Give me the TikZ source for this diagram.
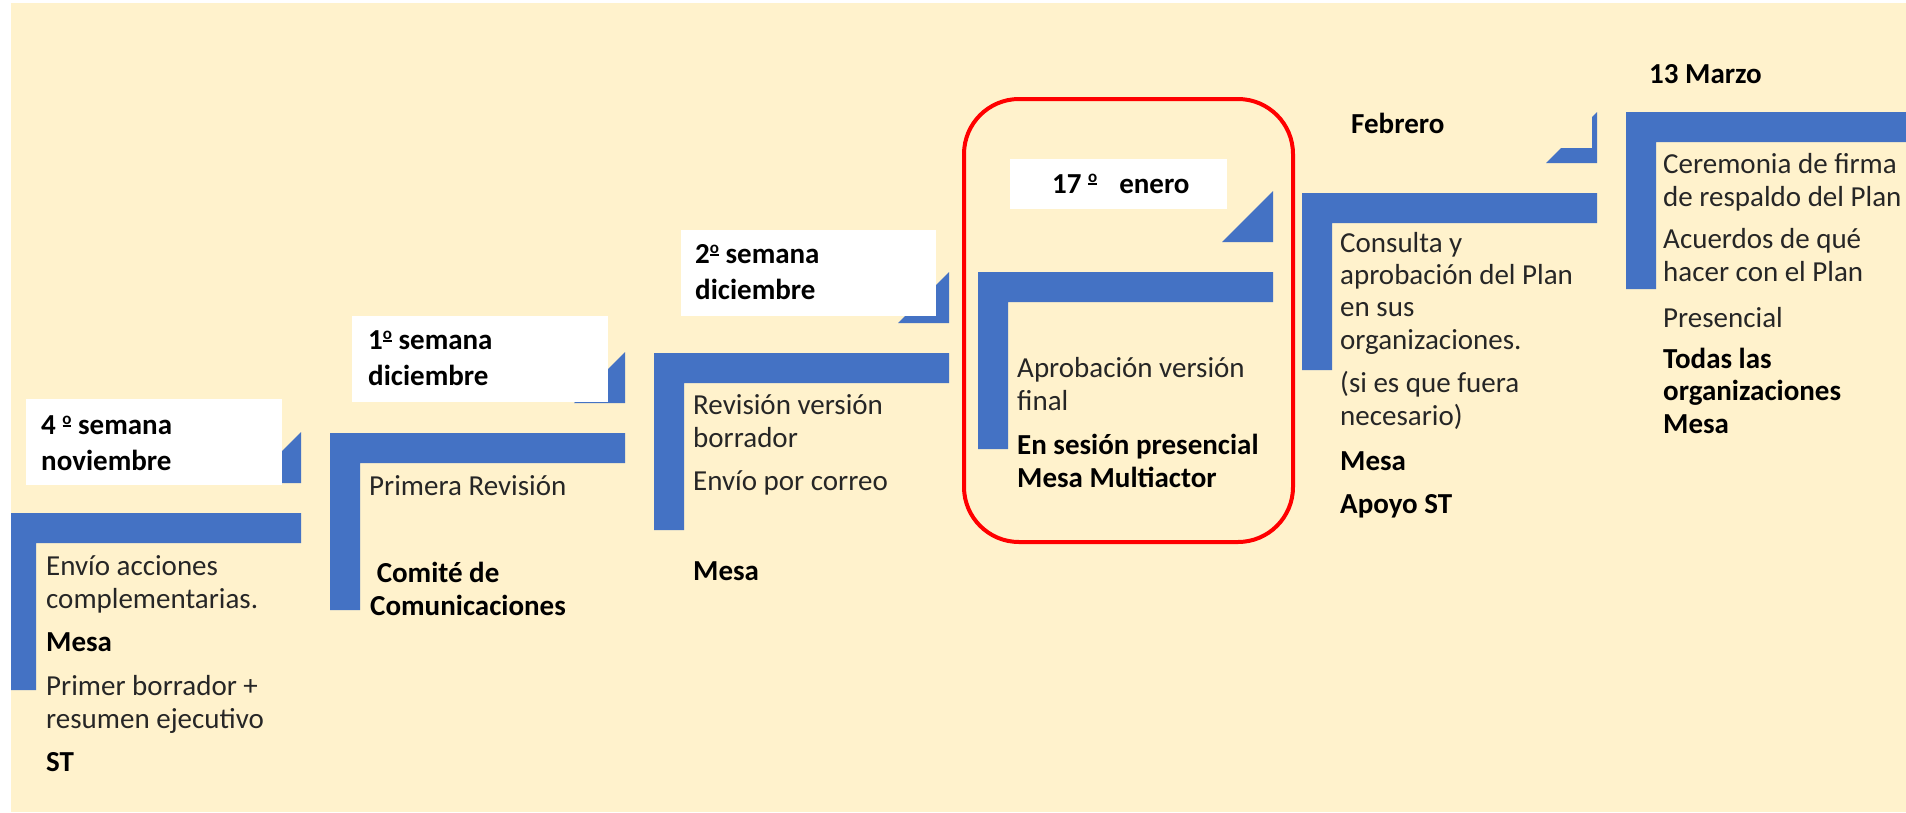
\documentclass[tikz,border=0pt]{standalone}
\usepackage{fontspec}
\setmainfont{Carlito}
\definecolor{cream}{HTML}{FFF2CC}
\definecolor{stepblue}{HTML}{4472C4}
\definecolor{bodytext}{HTML}{262626}
\definecolor{frame}{HTML}{FF0000}
% ordinal sign: #1 raise, #2 font size
\newcommand{\myordo}[2]{\raisebox{#1}{\fontsize{#2}{#2}\selectfont\setbox0\hbox{o}\rlap{\hbox to \wd0{\hss\rule[-2.6pt]{0.95\wd0}{1.7pt}\hss}}\box0}}
\begin{document}
\begin{tikzpicture}[x=1pt,y=-1pt,
  datetext/.style={anchor=base west, inner sep=0pt, align=left, font=\fontsize{29}{35.4}\selectfont\bfseries, text=black},
  bodytxt/.style={anchor=base west, inner sep=0pt, align=left, font=\fontsize{29}{32.3}\selectfont, text=bodytext},
  boldtxt/.style={bodytxt, font=\fontsize{29}{32.3}\selectfont\bfseries, text=black},
]
\useasboundingbox (0,0) rectangle (1906,812);
\fill[white] (0,0) rectangle (1906,812);
\fill[cream] (11,3) rectangle (1906,812);
\begin{scope}
\clip (11,3) rectangle (1906,812);
\foreach \x/\y in {6/513,330/433,654/353,978/272,1302/193} {
  \fill[stepblue] (\x,\y) -- ++(295,0) -- ++(0,30) -- ++(-265,0) -- ++(0,147) -- ++(-30,0) -- cycle;
  \fill[stepblue] (\x+295,\y-30) -- ++(0,-51) -- ++(-51,51) -- cycle;
}
\fill[stepblue] (1626,112) -- ++(295,0) -- ++(0,30) -- ++(-265,0) -- ++(0,147) -- ++(-30,0) -- cycle;
\end{scope}
% date boxes
\fill[white] (26,399) rectangle (282,485);
\fill[white] (352,316) rectangle (608,402);
\fill[white] (681,230) rectangle (936,316);
\fill[white] (1010,159) rectangle (1227,209);
\fill[cream] (1330,95) rectangle (1592,148);
% date labels
\node[datetext] (d1) at (41,470) {4 \myordo{10.5pt}{17}{} semana\\noviembre};
\node[datetext] (d2) at (368,385) {1\myordo{10.5pt}{17}{} semana\\diciembre};
\node[datetext] (d3) at (695,299) {2\myordo{10.5pt}{17}{} semana\\diciembre};
\node[datetext] (d4) at (1052,193) {17 \myordo{10.5pt}{17}\hspace{22pt}enero};
\node[datetext] (d5) at (1351,133) {Febrero};
\node[datetext] (d6) at (1649,83) {13 Marzo};
% step 1
\node[bodytxt] (s1a) at (46,608) {Envío acciones\\complementarias.};
\node[boldtxt] (s1b) at (46,651) {Mesa};
\node[bodytxt] (s1c) at (46,728) {Primer borrador +\\resumen ejecutivo};
\node[boldtxt] (s1d) at (46,771) {ST};
% step 2
\node[bodytxt] (s2a) at (369,495) {Primera Revisión};
\node[boldtxt] (s2b) at (370,615) {\ Comité de\\Comunicaciones};
% step 3
\node[bodytxt] (s3a) at (693,447) {Revisión versión\\borrador};
\node[bodytxt] (s3b) at (693,490) {Envío por correo};
\node[boldtxt] (s3c) at (693,580) {Mesa};
% step 4
\node[bodytxt] (s4a) at (1017,410) {Aprobación versión\\final};
\node[boldtxt] (s4b) at (1017,487) {En sesión presencial\\Mesa Multiactor};
% step 5
\node[bodytxt] (s5a) at (1340,349) {Consulta y\\aprobación del Plan\\en sus\\organizaciones.};
\node[bodytxt] (s5b) at (1340,425) {(si es que fuera\\necesario)};
\node[boldtxt] (s5c) at (1340,470) {Mesa};
\node[boldtxt] (s5d) at (1340,513) {Apoyo ST};
% step 6
\node[bodytxt] (s6a) at (1663,206) {Ceremonia de firma\\de respaldo del Plan};
\node[bodytxt] (s6b) at (1663,281) {Acuerdos de qué\\hacer con el Plan};
\node[bodytxt] (s6c) at (1663,327) {Presencial};
\node[boldtxt] (s6d) at (1663,433) {Todas las\\organizaciones\\Mesa};
% highlight frame
\draw[frame, line width=4pt, rounded corners=55pt] (964,99) rectangle (1293,542);
\end{tikzpicture}
\end{document}
